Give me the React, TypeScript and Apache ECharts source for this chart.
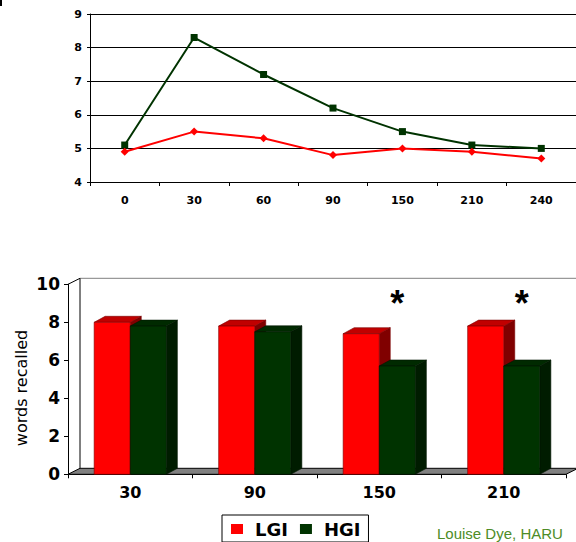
import React, { useEffect, useRef } from 'react';
import * as echarts from 'echarts';

// ---- data ----
const timeCategories = ['0', '30', '60', '90', '150', '210', '240'];
const lgiGlucose = [4.9, 5.5, 5.3, 4.8, 5.0, 4.9, 4.7];
const hgiGlucose = [5.1, 8.3, 7.2, 6.2, 5.5, 5.1, 5.0];

const recallCategories = ['30', '90', '150', '210'];
const lgiRecall = [8.0, 7.8, 7.4, 7.8];
const hgiRecall = [7.8, 7.5, 5.7, 5.7];
const significant = [false, false, true, true];

const seriesNames = ['LGI', 'HGI'];
const creditText = 'Louise Dye, HARU';
const yTitle = 'words recalled';

// ---- styling constants ----
const NUM_FONT = '"DejaVu Sans", "Liberation Sans", Arial, sans-serif';
const TXT_FONT = '"Liberation Sans", Arial, sans-serif';
const DX = 11;
const DY = -6;
const BAR_FRAC = 0.29;

const redColors = { front: '#ff0000', top: '#c00000', side: '#800000', edge: '#7a0000' };
const greenColors = { front: '#003300', top: '#002a00', side: '#001c00', edge: '#001500' };

function make3DBar(sideSign: number, c: any) {
  return (params: any, api: any) => {
    const cat = api.value(0);
    const val = api.value(1);
    const base = api.coord([cat, 0]);
    const top = api.coord([cat, val]);
    const band = api.size([1, 0])[0];
    const w = band * BAR_FRAC;
    const x0 = base[0] + (sideSign < 0 ? -w : 0);
    const ty = top[1];
    const by = base[1];
    return {
      type: 'group',
      children: [
        {
          type: 'polygon',
          shape: { points: [[x0 + w, ty], [x0 + w + DX, ty + DY], [x0 + w + DX, by + DY], [x0 + w, by]] },
          style: { fill: c.side, stroke: c.edge, lineWidth: 0.6 },
        },
        {
          type: 'polygon',
          shape: { points: [[x0, ty], [x0 + w, ty], [x0 + w + DX, ty + DY], [x0 + DX, ty + DY]] },
          style: { fill: c.top, stroke: c.edge, lineWidth: 0.6 },
        },
        {
          type: 'rect',
          shape: { x: x0, y: ty, width: w, height: by - ty },
          style: { fill: c.front, stroke: c.edge, lineWidth: 0.6 },
        },
      ],
    };
  };
}

export default function App() {
  const ref = useRef<HTMLDivElement>(null);

  useEffect(() => {
    if (!ref.current) return;
    const chart = echarts.init(ref.current, null, { renderer: 'svg' });

    const option: any = {
      animation: false,
      backgroundColor: '#ffffff',
      grid: [
        { left: 90, top: 14, width: 497, height: 168 },
        { left: 68, top: 284.3, width: 498, height: 190 },
      ],
      xAxis: [
        {
          gridIndex: 0,
          type: 'category',
          data: timeCategories,
          boundaryGap: true,
          axisLine: { lineStyle: { color: '#000', width: 1 } },
          axisTick: { show: true, length: 4, lineStyle: { color: '#000' } },
          axisLabel: { color: '#000', fontSize: 11, fontWeight: 'bold', fontFamily: NUM_FONT, margin: 13 },
        },
        {
          gridIndex: 1,
          type: 'category',
          data: recallCategories,
          boundaryGap: true,
          axisLine: { lineStyle: { color: '#000', width: 1 } },
          axisTick: { show: true, length: 4, lineStyle: { color: '#000' } },
          axisLabel: { color: '#000', fontSize: 16, fontWeight: 'bold', fontFamily: NUM_FONT, margin: 10 },
        },
      ],
      yAxis: [
        {
          gridIndex: 0,
          type: 'value',
          min: 4,
          max: 9,
          interval: 1,
          axisLine: { show: true, lineStyle: { color: '#000', width: 1 } },
          axisTick: { show: true, length: 3, lineStyle: { color: '#000' } },
          splitLine: { show: true, lineStyle: { color: '#000', width: 1 } },
          axisLabel: { color: '#000', fontSize: 11, fontWeight: 'bold', fontFamily: NUM_FONT, margin: 8 },
        },
        {
          gridIndex: 1,
          type: 'value',
          min: 0,
          max: 10,
          interval: 2,
          axisLine: { show: true, lineStyle: { color: '#000', width: 1 } },
          axisTick: { show: true, length: 4, lineStyle: { color: '#000' } },
          splitLine: { show: false },
          axisLabel: { color: '#000', fontSize: 17, fontWeight: 'bold', fontFamily: NUM_FONT, margin: 8 },
        },
      ],
      legend: {
        data: [
          { name: seriesNames[0], icon: 'rect' },
          { name: seriesNames[1], icon: 'rect' },
        ],
        left: 222,
        top: 515,
        orient: 'horizontal',
        borderColor: '#000',
        borderWidth: 1,
        padding: [5, 8, 4, 9],
        itemWidth: 12,
        itemHeight: 10,
        itemGap: 12,
        selectedMode: false,
        textStyle: {
          color: '#000',
          fontSize: 18,
          fontWeight: 'bold',
          fontFamily: NUM_FONT,
          width: 40,
          padding: [0, 0, 0, 7],
        },
      },
      series: [
        {
          name: seriesNames[0],
          type: 'custom',
          xAxisIndex: 1,
          yAxisIndex: 1,
          itemStyle: { color: redColors.front },
          renderItem: make3DBar(-1, redColors),
          data: lgiRecall.map((v, i) => [i, v]),
          z: 3,
        },
        {
          name: seriesNames[1],
          type: 'custom',
          xAxisIndex: 1,
          yAxisIndex: 1,
          itemStyle: { color: greenColors.front },
          renderItem: make3DBar(1, greenColors),
          data: hgiRecall.map((v, i) => [i, v]),
          z: 4,
        },
        {
          name: 'significance',
          type: 'custom',
          xAxisIndex: 1,
          yAxisIndex: 1,
          renderItem: (params: any, api: any) => {
            const i = api.value(0);
            if (!significant[i]) return null;
            const p = api.coord([i, 9.0]);
            const band = api.size([1, 0])[0];
            return {
              type: 'text',
              x: p[0] + (band * BAR_FRAC) / 2,
              y: p[1],
              style: {
                text: '*',
                fill: '#000',
                fontSize: 36,
                fontWeight: 'bold',
                fontFamily: TXT_FONT,
                textAlign: 'center',
                textVerticalAlign: 'middle',
              },
            };
          },
          data: significant.map((s, i) => [i, 0]),
          z: 5,
        },
        {
          name: seriesNames[1],
          type: 'line',
          xAxisIndex: 0,
          yAxisIndex: 0,
          data: hgiGlucose,
          smooth: false,
          symbol: 'rect',
          symbolSize: 7,
          lineStyle: { color: '#003300', width: 2 },
          itemStyle: { color: '#003300' },
          z: 4,
        },
        {
          name: seriesNames[0],
          type: 'line',
          xAxisIndex: 0,
          yAxisIndex: 0,
          data: lgiGlucose,
          symbol: 'diamond',
          symbolSize: 8,
          lineStyle: { color: '#ff0000', width: 2 },
          itemStyle: { color: '#ff0000' },
          z: 5,
        },
      ],
      graphic: [
        { type: 'rect', shape: { x: 0, y: 0, width: 2, height: 6 }, style: { fill: '#000' } },
        {
          type: 'polygon',
          z: 1,
          shape: { points: [[68, 474.3], [566, 474.3], [578, 468.3], [80, 468.3]] },
          style: { fill: '#808080', stroke: '#000', lineWidth: 1 },
        },
        { type: 'line', z: 1, shape: { x1: 80, y1: 278.3, x2: 576, y2: 278.3 }, style: { stroke: '#808080', lineWidth: 1 } },
        { type: 'line', z: 1, shape: { x1: 80, y1: 278.3, x2: 80, y2: 468.3 }, style: { stroke: '#000', lineWidth: 1 } },
        { type: 'line', z: 1, shape: { x1: 68, y1: 284.3, x2: 80, y2: 278.3 }, style: { stroke: '#000', lineWidth: 1 } },
        {
          type: 'text',
          x: 21,
          y: 388,
          rotation: Math.PI / 2,
          style: {
            text: yTitle,
            fill: '#000',
            fontSize: 16,
            fontFamily: NUM_FONT,
            textAlign: 'center',
            textVerticalAlign: 'middle',
          },
        },
        {
          type: 'text',
          x: 437,
          y: 526,
          style: {
            text: creditText,
            fill: '#4d8c26',
            fontSize: 15,
            fontFamily: TXT_FONT,
            textAlign: 'left',
            textVerticalAlign: 'top',
          },
        },
      ],
    };

    chart.setOption(option);
    return () => chart.dispose();
  }, []);

  return (
    <div
      ref={ref}
      style={{ position: 'fixed', left: 0, top: 0, width: 576, height: 542, background: '#fff' }}
    />
  );
}
